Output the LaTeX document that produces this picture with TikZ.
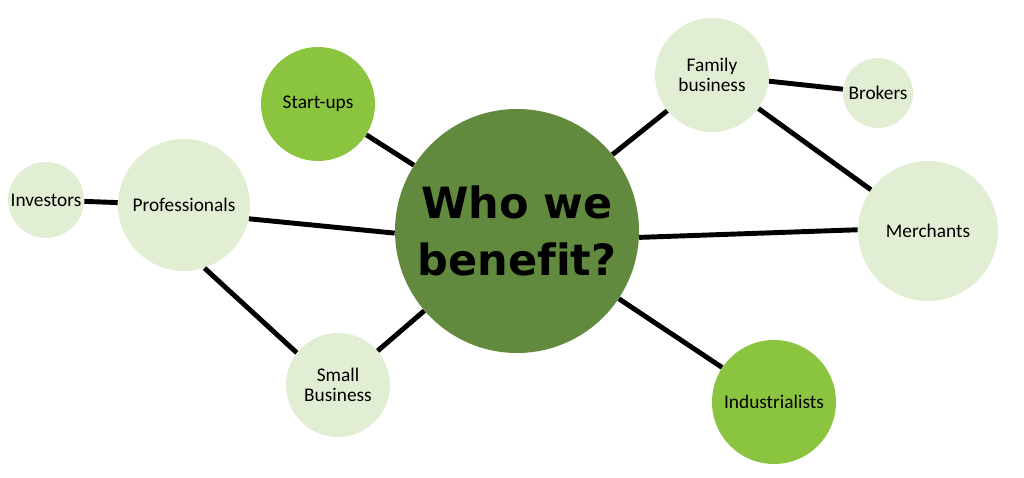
\documentclass[tikz,border=0pt]{standalone}
\usepackage{fontspec}
\setmainfont{Carlito}
\newfontfamily\titlefont[Ligatures=NoCommon]{DejaVu Sans}
\usepackage{tikz}
\usetikzlibrary{positioning}
\usepackage{xcolor}
\definecolor{darkleaf}{HTML}{628A3E}
\definecolor{lime}{HTML}{8BC43F}
\definecolor{palegreen}{HTML}{E2EED3}

\begin{document}
\begin{tikzpicture}[
  bubble/.style={circle, inner sep=0pt, align=center, text=black,
    font=\fontsize{11}{11.5}\selectfont},
  pale/.style={bubble, fill=palegreen},
  bright/.style={bubble, fill=lime},
  link/.style={line width=2.8pt, black}]
  \useasboundingbox (0,0) rectangle (20.48,9.56);
  \node[bubble, fill=darkleaf, minimum size=4.88cm,
    font=\titlefont\bfseries\fontsize{24.5}{32}\selectfont] (who) at (10.34,4.94) {Who we\\benefit?};
  \node[bright, minimum size=2.28cm] (startups) at (6.36,7.48) {Start-ups};
  \node[pale, minimum size=1.52cm] (investors) at (0.92,5.56) {Investors};
  \node[pale, minimum size=2.64cm] (prof) at (3.68,5.46) {Professionals};
  \node[pale, minimum size=2.08cm] (small) at (6.76,1.86) {Small\\Business};
  \node[pale, minimum size=2.28cm] (family) at (14.24,8.06) {Family\\business};
  \node[pale, minimum size=1.40cm] (brokers) at (17.56,7.70) {Brokers};
  \node[pale, minimum size=2.80cm] (merchants) at (18.56,4.94) {Merchants};
  \node[bright, minimum size=2.48cm] (indust) at (15.48,1.52) {Industrialists};
  % connectors
  \draw[link] (startups) -- (who);
  \draw[link] (investors) -- (prof);
  \draw[link] (prof.-12) -- (who.181);
  \draw[link] (prof.-72) -- (small.142);
  \draw[link] (small) -- (who);
  \draw[link] (who) -- (family);
  \draw[link] (family) -- (brokers);
  \draw[link] (family) -- (merchants);
  \draw[link] (who.-3) -- (merchants.179);
  \draw[link] (who) -- (indust);
\end{tikzpicture}
\end{document}
